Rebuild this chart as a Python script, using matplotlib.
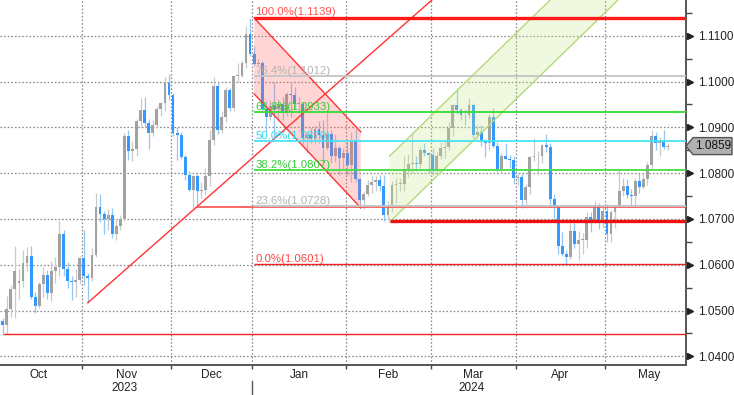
import numpy as np
import pandas as pd
import matplotlib
matplotlib.use("Agg")
import matplotlib.pyplot as plt
import matplotlib.transforms as mtransforms
from matplotlib.patches import Polygon

plt.rcParams['font.family'] = ['Liberation Sans', 'DejaVu Sans']

# daily EUR/USD candles, Oct 3 2023 - May 21 2024 (Dec 25 missing)
opens = [
    # Oct
    1.0477, 1.0468, 1.0503, 1.0548, 1.0560, 1.0565, 1.0604, 1.0620, 1.0530, 1.0510, 1.0557,
    1.0577, 1.0538, 1.0586, 1.0594, 1.0668, 1.0590, 1.0565, 1.0563, 1.0566, 1.0614,
    # Nov
    1.0576, 1.0571, 1.0621, 1.0727, 1.0711, 1.0699, 1.0709, 1.0668, 1.0684, 1.0700, 1.0882,
    1.0848, 1.0852, 1.0913, 1.0937, 1.0909, 1.0887, 1.0905, 1.0939, 1.0953, 1.0996, 1.0970,
    # Dec
    1.0888, 1.0884, 1.0835, 1.0796, 1.0764, 1.0794, 1.0762, 1.0763, 1.0793, 1.0872, 1.0990,
    1.0895, 1.0922, 1.0981, 1.0943, 1.1012, 1.1013, 1.1041, 1.1104, 1.1060,
    # Jan
    1.1039, 1.1040, 1.0940, 1.0922, 1.0947, 1.0940, 1.0950, 1.0931, 1.0973, 1.0971, 1.0951,
    1.0951, 1.0877, 1.0884, 1.0874, 1.0896, 1.0884, 1.0855, 1.0885, 1.0837, 1.0855, 1.0834, 1.0845,
    # Feb
    1.0818, 1.0873, 1.0787, 1.0742, 1.0755, 1.0775, 1.0781, 1.0785, 1.0772, 1.0708, 1.0727,
    1.0773, 1.0777, 1.0777, 1.0808, 1.0819, 1.0823, 1.0820, 1.0851, 1.0844, 1.0840,
    # Mar
    1.0805, 1.0838, 1.0854, 1.0856, 1.0899, 1.0948, 1.0937, 1.0927, 1.0926, 1.0948, 1.0883,
    1.0889, 1.0870, 1.0865, 1.0922, 1.0860, 1.0808, 1.0838, 1.0830, 1.0828, 1.0790,
    # Apr
    1.0792, 1.0741, 1.0769, 1.0836, 1.0837, 1.0838, 1.0861, 1.0858, 1.0743, 1.0726, 1.0641,
    1.0624, 1.0617, 1.0673, 1.0645, 1.0655, 1.0655, 1.0705, 1.0697, 1.0730, 1.0694, 1.0718,
    # May
    1.0666, 1.0715, 1.0727, 1.0761, 1.0771, 1.0752, 1.0749, 1.0782, 1.0769, 1.0787, 1.0818,
    1.0882, 1.0866, 1.0870, 1.0857,
]
highs = [
    1.0483, 1.0531, 1.0555, 1.0640, 1.0590, 1.0632, 1.0639, 1.0640, 1.0540, 1.0563, 1.0595,
    1.0588, 1.0608, 1.0617, 1.0695, 1.0675, 1.0605, 1.0575, 1.0590, 1.0620, 1.0675,
    1.0582, 1.0637, 1.0756, 1.0755, 1.0718, 1.0722, 1.0724, 1.0700, 1.0708, 1.0887, 1.0895,
    1.0870, 1.0918, 1.0965, 1.0966, 1.0918, 1.0917, 1.0946, 1.0955, 1.1009, 1.1017, 1.0975,
    1.0900, 1.0890, 1.0840, 1.0805, 1.0795, 1.0800, 1.0781, 1.0812, 1.0895, 1.1009, 1.0996,
    1.0935, 1.0988, 1.0985, 1.1013, 1.1040, 1.1045, 1.1122, 1.1139, 1.1077,
    1.1050, 1.1045, 1.0957, 1.0960, 1.0998, 1.0962, 1.0967, 1.0977, 1.0999, 1.0989, 1.0966,
    1.0955, 1.0890, 1.0898, 1.0905, 1.0914, 1.0915, 1.0933, 1.0895, 1.0885, 1.0860, 1.0855, 1.0875,
    1.0889, 1.0897, 1.0790, 1.0760, 1.0786, 1.0795, 1.0794, 1.0795, 1.0796, 1.0740, 1.0782,
    1.0789, 1.0789, 1.0838, 1.0842, 1.0888, 1.0837, 1.0857, 1.0865, 1.0847, 1.0855,
    1.0846, 1.0868, 1.0870, 1.0912, 1.0951, 1.0981, 1.0942, 1.0940, 1.0963, 1.0953, 1.0905,
    1.0906, 1.0875, 1.0930, 1.0942, 1.0867, 1.0843, 1.0865, 1.0840, 1.0837, 1.0800,
    1.0800, 1.0776, 1.0838, 1.0876, 1.0849, 1.0863, 1.0885, 1.0865, 1.0755, 1.0730, 1.0672,
    1.0632, 1.0690, 1.0690, 1.0674, 1.0670, 1.0714, 1.0715, 1.0740, 1.0735, 1.0725, 1.0732,
    1.0720, 1.0730, 1.0812, 1.0790, 1.0788, 1.0765, 1.0790, 1.0800, 1.0800, 1.0825, 1.0895,
    1.0890, 1.0879, 1.0895, 1.0866,
]
lows = [
    1.0448, 1.0448, 1.0486, 1.0483, 1.0525, 1.0552, 1.0587, 1.0525, 1.0495, 1.0505, 1.0530,
    1.0525, 1.0520, 1.0560, 1.0575, 1.0575, 1.0550, 1.0523, 1.0530, 1.0557, 1.0555,
    1.0517, 1.0565, 1.0617, 1.0693, 1.0667, 1.0675, 1.0659, 1.0655, 1.0675, 1.0695, 1.0828,
    1.0826, 1.0838, 1.0900, 1.0900, 1.0852, 1.0880, 1.0900, 1.0925, 1.0935, 1.0960, 1.0880,
    1.0828, 1.0830, 1.0785, 1.0760, 1.0724, 1.0723, 1.0745, 1.0752, 1.0772, 1.0862, 1.0885,
    1.0888, 1.0912, 1.0935, 1.0935, 1.1000, 1.1010, 1.1030, 1.1055, 1.1033,
    1.1035, 1.0937, 1.0892, 1.0915, 1.0877, 1.0915, 1.0917, 1.0925, 1.0923, 1.0940, 1.0932,
    1.0863, 1.0845, 1.0866, 1.0866, 1.0866, 1.0821, 1.0850, 1.0821, 1.0825, 1.0795, 1.0808, 1.0795,
    1.0780, 1.0781, 1.0723, 1.0722, 1.0751, 1.0756, 1.0762, 1.0760, 1.0695, 1.0697, 1.0715,
    1.0735, 1.0760, 1.0760, 1.0792, 1.0800, 1.0805, 1.0812, 1.0838, 1.0797, 1.0796,
    1.0797, 1.0830, 1.0832, 1.0850, 1.0881, 1.0930, 1.0915, 1.0905, 1.0920, 1.0876, 1.0874,
    1.0860, 1.0835, 1.0850, 1.0855, 1.0802, 1.0801, 1.0831, 1.0812, 1.0776, 1.0773,
    1.0724, 1.0727, 1.0755, 1.0826, 1.0795, 1.0822, 1.0846, 1.0728, 1.0698, 1.0623, 1.0620,
    1.0601, 1.0612, 1.0637, 1.0611, 1.0624, 1.0636, 1.0672, 1.0690, 1.0677, 1.0680, 1.0650,
    1.0650, 1.0680, 1.0725, 1.0750, 1.0745, 1.0725, 1.0726, 1.0756, 1.0765, 1.0775, 1.0809,
    1.0850, 1.0838, 1.0853, 1.0851,
]
closes = [
    1.0468, 1.0503, 1.0548, 1.0587, 1.0565, 1.0604, 1.0620, 1.0530, 1.0510, 1.0557, 1.0577,
    1.0538, 1.0586, 1.0594, 1.0668, 1.0590, 1.0565, 1.0563, 1.0566, 1.0614, 1.0576,
    1.0571, 1.0621, 1.0727, 1.0711, 1.0699, 1.0709, 1.0668, 1.0684, 1.0700, 1.0882, 1.0848,
    1.0852, 1.0913, 1.0937, 1.0909, 1.0887, 1.0905, 1.0939, 1.0953, 1.0996, 1.0970, 1.0888,
    1.0884, 1.0835, 1.0796, 1.0764, 1.0794, 1.0762, 1.0763, 1.0793, 1.0872, 1.0990, 1.0895,
    1.0922, 1.0981, 1.0943, 1.1012, 1.1013, 1.1041, 1.1104, 1.1060, 1.1039,
    1.1040, 1.0940, 1.0922, 1.0947, 1.0940, 1.0950, 1.0931, 1.0973, 1.0971, 1.0951, 1.0951,
    1.0877, 1.0884, 1.0874, 1.0896, 1.0884, 1.0855, 1.0885, 1.0837, 1.0855, 1.0834, 1.0845, 1.0818,
    1.0873, 1.0787, 1.0742, 1.0755, 1.0775, 1.0781, 1.0785, 1.0772, 1.0708, 1.0727, 1.0773,
    1.0777, 1.0777, 1.0808, 1.0819, 1.0823, 1.0820, 1.0851, 1.0844, 1.0840, 1.0805,
    1.0838, 1.0854, 1.0856, 1.0899, 1.0948, 1.0937, 1.0927, 1.0926, 1.0948, 1.0883, 1.0889,
    1.0870, 1.0865, 1.0922, 1.0860, 1.0808, 1.0838, 1.0830, 1.0828, 1.0790, 1.0792,
    1.0741, 1.0769, 1.0836, 1.0837, 1.0838, 1.0861, 1.0858, 1.0743, 1.0726, 1.0641, 1.0624,
    1.0617, 1.0673, 1.0645, 1.0655, 1.0655, 1.0705, 1.0697, 1.0730, 1.0694, 1.0718, 1.0666,
    1.0715, 1.0727, 1.0761, 1.0771, 1.0752, 1.0749, 1.0782, 1.0769, 1.0787, 1.0818, 1.0882,
    1.0866, 1.0870, 1.0857, 1.0859,
]

month_names = ["Oct", "Nov", "Dec", "Jan", "Feb", "Mar", "Apr", "May"]
year_labels = {"Nov": "2023", "Mar": "2024"}

# drawing objects (bar index, price)
oct_low = (0, 1.0448)
nov_low = (21, 1.0517)
dec_low = (47.7, 1.0725)
feb_low = (95.4, 1.0695)
fib_start, fib_high, fib_low = 62, 1.1139, 1.0601
fib_ratios = [0.0, 0.236, 0.382, 0.5, 0.618, 0.764, 1.0]
fib_colors = ["#ee2222", "#c4c4c4", "#44dd44", "#44e4f4", "#33dd33", "#c4c4c4", "#ff1a1a"]
fib_text_colors = ["#ff4444", "#b4b4b4", "#33cc33", "#33d8ee", "#33cc33", "#b4b4b4", "#ff5050"]
fib_widths = [1.0, 1.3, 1.3, 1.3, 1.3, 1.3, 2.4]
down_chan = [(62, 1.1139), (88.3, 1.0890)]   # upper edge
down_chan_height = 0.0166
up_chan_start, up_chan_base = 95.4, 1.0693
up_chan_slope = 0.000861
up_chan_height = 0.0144

dates = pd.bdate_range("2023-10-03", "2024-05-21")
dates = dates[dates != pd.Timestamp("2023-12-25")]
x = np.arange(len(dates))
o, h, l, c = map(np.array, (opens, highs, lows, closes))

fig = plt.figure(figsize=(7.34, 3.95), dpi=100)
ax = fig.add_axes([0, 30 / 395, 686 / 734, 365 / 395])
xmin, xmax = -0.67, 168.5
ax.set_xlim(xmin, xmax)
ax.set_ylim(1.0381, 1.1178)

# candles
up = c >= o
ax.vlines(x[up], l[up], h[up], color="#c9c9c9", lw=0.9, zorder=3)
ax.vlines(x[~up], l[~up], h[~up], color="#93c6f4", lw=0.9, zorder=3)
body = np.maximum(np.abs(c - o), 0.00012)
bottom = np.minimum(o, c)
ax.bar(x[up], body[up], bottom=bottom[up], width=0.7, color="#a2a2a2", lw=0, zorder=4)
ax.bar(x[~up], body[~up], bottom=bottom[~up], width=0.7, color="#3399ff", lw=0, zorder=4)

# red down channel
(x1, y1), (x2, y2) = down_chan
pink = Polygon([(x1, y1), (x2, y2), (x2, y2 - down_chan_height), (x1, y1 - down_chan_height)],
               closed=True, facecolor="#ff6666", alpha=0.27, lw=0, zorder=5)
ax.add_patch(pink)
ax.plot([x1, x2], [y1, y2], color="#ff3333", lw=1.0, zorder=6)
ax.plot([x1, x2], [y1 - down_chan_height, y2 - down_chan_height], color="#ff3333", lw=1.0, zorder=6)

# green up channel
ux = np.array([up_chan_start, xmax])
uy = up_chan_base + up_chan_slope * (ux - up_chan_start)
green = Polygon([(ux[0], uy[0]), (ux[1], uy[1]), (ux[1], uy[1] + up_chan_height),
                 (ux[0], uy[0] + up_chan_height)],
                closed=True, facecolor="#c8e68c", alpha=0.27, lw=0, zorder=5)
ax.add_patch(green)
ax.plot(ux, uy, color="#b0dc78", lw=1.0, zorder=6)
ax.plot(ux, uy + up_chan_height, color="#b0dc78", lw=1.0, zorder=6)

# rising support line from the Nov low
slope = (dec_low[1] - nov_low[1]) / (dec_low[0] - nov_low[0])
sx = np.array([nov_low[0], 130])
ax.plot(sx, nov_low[1] + slope * (sx - nov_low[0]), color="#ff3333", lw=1.0, zorder=6)

# horizontal lines
ax.hlines(oct_low[1], oct_low[0], xmax, color="#ee2222", lw=1.0, zorder=6)
ax.hlines(dec_low[1], dec_low[0], xmax, color="#ff4d4d", lw=1.2, zorder=6)
ax.hlines(feb_low[1], feb_low[0], xmax, color="#ee1111", lw=2.4, zorder=6)

# fibonacci retracement
for r, col, tcol, lw in zip(fib_ratios, fib_colors, fib_text_colors, fib_widths):
    lvl = fib_low + r * (fib_high - fib_low)
    ax.hlines(lvl, fib_start, xmax, color=col, lw=lw, zorder=6)
    ax.text(fib_start + 0.25, lvl + 0.0001, f"{r * 100:.1f}%({lvl:.4f})", color=tcol,
            fontsize=8.2, ha="left", va="bottom", zorder=7)

# axes styling
for s in ("left", "top"):
    ax.spines[s].set_visible(False)
for s in ("right", "bottom"):
    ax.spines[s].set_color("#555555")
    ax.spines[s].set_linewidth(1.4)

yt = np.round(np.arange(1.04, 1.1101, 0.01), 4)
ax.yaxis.tick_right()
ax.set_yticks(yt)
ax.set_yticklabels([f"{v:.4f}" for v in yt])
ax.set_yticks(np.round(np.arange(1.045, 1.1151, 0.01), 4), minor=True)
ax.tick_params(axis="y", which="major", length=0, pad=9, labelsize=8.5, labelcolor="#222222")
ax.tick_params(axis="y", which="minor", length=4, width=1, color="#444444")
ytrans = mtransforms.blended_transform_factory(ax.transAxes, ax.transData)
ax.plot(np.full(len(yt), 1.0 + 3.5 / 686), yt, ls="none", marker=">", ms=4.5,
        color="#222222", transform=ytrans, clip_on=False, zorder=8)

month_start = [0] + [i for i in range(1, len(dates)) if dates[i].month != dates[i - 1].month]
grid_x = [i - 1.45 for i in month_start[1:]]
ax.set_xticks(grid_x)
ax.set_xticklabels([])
ax.tick_params(axis="x", which="major", length=3, width=1, color="#444444")
ax.grid(True, which="major", color="#888888", ls=(0, (1.3, 1.6)), lw=0.9, zorder=0)

edges = [grid_x[0] - 21.5] + grid_x + [grid_x[-1] + 21.5]
xtrans = mtransforms.blended_transform_factory(ax.transData, ax.transAxes)
for name, a, b in zip(month_names, edges[:-1], edges[1:]):
    mid = (a + b) / 2
    ax.text(mid, -0.028, name, transform=xtrans, ha="center", va="center",
            fontsize=8.5, color="#222222")
    if name in year_labels:
        ax.text(mid - 0.5, -0.064, year_labels[name], transform=xtrans, ha="center",
                va="center", fontsize=8.5, color="#222222")
jan_x = grid_x[month_names.index("Jan") - 1]
ax.plot([jan_x, jan_x], [-0.045, -0.085], transform=xtrans, color="#555555", lw=1,
        clip_on=False)

# last price tag
last = c[-1]
dy = (1.1178 - 1.0381) / 365
tag = Polygon([(1.0, last), (1 + 7 / 686, last + 8.5 * dy), (1 + 46 / 686, last + 8.5 * dy),
               (1 + 46 / 686, last - 8.5 * dy), (1 + 7 / 686, last - 8.5 * dy)],
              closed=True, facecolor="#b0b0b0", edgecolor="#555555", lw=1.0,
              transform=ytrans, clip_on=False, zorder=9)
ax.add_patch(tag)
ax.text(1 + 27 / 686, last, f"{last:.4f}", transform=ytrans, ha="center", va="center",
        fontsize=8.5, color="#111111", zorder=10)

fig.savefig("out.png", dpi=100)
